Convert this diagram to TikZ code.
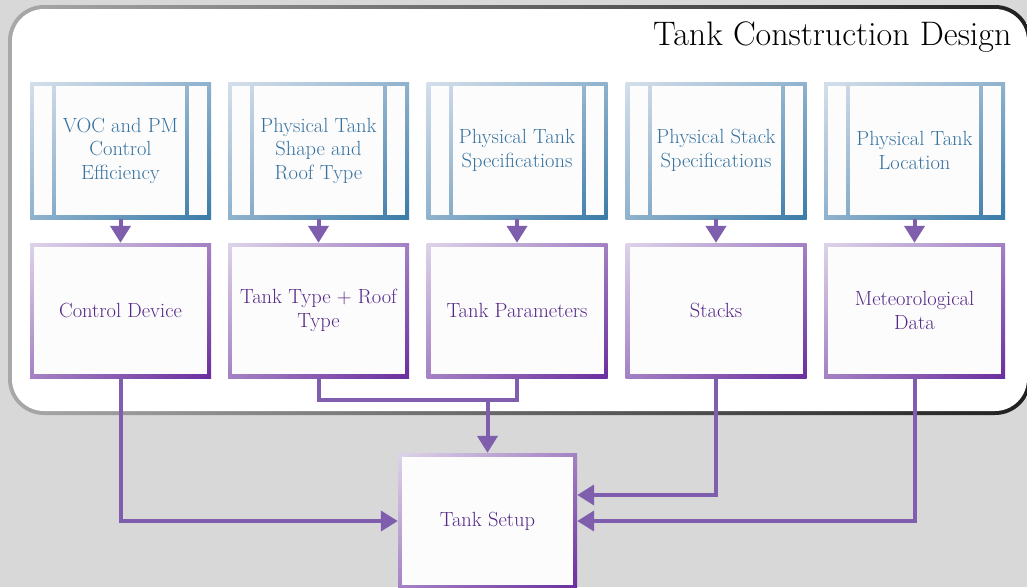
\documentclass[tikz,border=0pt]{standalone}
\usetikzlibrary{arrows.meta,positioning,calc,shadings}
\definecolor{backdrop}{HTML}{D8D8D8}
\definecolor{paper}{HTML}{FCFCFC}
\definecolor{rimlight}{HTML}{A8A8A8}
\definecolor{rimdark}{HTML}{202020}
\definecolor{bluelight}{HTML}{D5DFEB}
\definecolor{bluedark}{HTML}{3A7BA8}
\definecolor{lilaclight}{HTML}{DDD4E9}
\definecolor{lilacdark}{HTML}{6A2E9E}
\definecolor{inkblue}{HTML}{36729F}
\definecolor{inkpurple}{HTML}{552888}
\definecolor{flowpurple}{HTML}{7F5EAD}
\newcommand\boxsize{\fontsize{20.5}{23.5}\selectfont}
\newcommand\headsize{\fontsize{34}{38}\selectfont}

\tikzset{
  inbox/.style={minimum width=181pt, minimum height=137pt, inner sep=0pt,
    fill=paper, text=inkblue, font=\boxsize, align=center,
    path picture={
      \shade[upper left=bluelight, upper right=bluelight!55!bluedark,
             lower left=bluelight!55!bluedark, lower right=bluedark]
        (path picture bounding box.south west) rectangle (path picture bounding box.north east);
      \fill[paper] ([shift={(4pt,4pt)}]path picture bounding box.south west)
        rectangle ([shift={(22pt,-4pt)}]path picture bounding box.north west);
      \fill[paper] ([shift={(26pt,4pt)}]path picture bounding box.south west)
        rectangle ([shift={(-26pt,-4pt)}]path picture bounding box.north east);
      \fill[paper] ([shift={(-22pt,4pt)}]path picture bounding box.south east)
        rectangle ([shift={(-4pt,-4pt)}]path picture bounding box.north east);
    }},
  outbox/.style={minimum width=181pt, minimum height=135pt, inner sep=0pt,
    fill=paper, text=inkpurple, font=\boxsize, align=center,
    path picture={
      \shade[upper left=lilaclight, upper right=lilaclight!50!lilacdark,
             lower left=lilaclight!50!lilacdark, lower right=lilacdark]
        (path picture bounding box.south west) rectangle (path picture bounding box.north east);
      \fill[paper] ([shift={(4pt,4pt)}]path picture bounding box.south west)
        rectangle ([shift={(-4pt,-4pt)}]path picture bounding box.north east);
    }},
  flow/.style={draw=flowpurple, line width=4pt, -{Triangle[width=20pt,length=17pt]}},
  feed/.style={draw=flowpurple, line width=4pt}
}

\begin{document}
\begin{tikzpicture}[x=1pt,y=-1pt]
  \useasboundingbox (0,0) rectangle (1027,587);
  \fill[backdrop] (0,0) rectangle (1027,587);

  % frame of the design area
  \shade[left color=rimlight, right color=rimdark, rounded corners=36pt] (8,5) rectangle (1031,415);
  \fill[white, rounded corners=32pt] (12,9) rectangle (1027,411);
  \node[anchor=base east, font=\headsize] (title) at (1015,45) {Tank Construction Design};

  % inputs
  \node[inbox] (voc)   at (120.5,150.5) {VOC and PM\\Control\\Efficiency};
  \node[inbox] (shape) at (318.5,150.5) {Physical Tank\\Shape and\\Roof Type};
  \node[inbox] (spec)  at (517,150.5)   {Physical Tank\\Specifications};
  \node[inbox] (stack) at (716,150.5)   {Physical Stack\\Specifications};
  \node[inbox] (place) at (914.5,150.5) {Physical Tank\\Location};

  % model data
  \node[outbox] (device) at (120.5,310.5) {Control Device};
  \node[outbox] (type)   at (318.5,310.5) {Tank Type + Roof\\Type};
  \node[outbox] (param)  at (517,310.5)   {Tank Parameters};
  \node[outbox] (stacks) at (716,310.5)   {Stacks};
  \node[outbox] (meteo)  at (914.5,310.5) {Meteorological\\Data};

  \node[outbox, minimum width=179pt, minimum height=136pt] (setup) at (487.5,521) {Tank Setup};

  \draw[flow] (voc) -- (device);
  \draw[flow] (shape) -- (type);
  \draw[flow] (spec) -- (param);
  \draw[flow] (stack) -- (stacks);
  \draw[flow] (place) -- (meteo);

  \draw[feed] (type.south) -- ++(0,22) -| (param.south);
  \coordinate (join) at (487.5,400);
  \draw[flow] (join) -- (join |- setup.north);
  \draw[flow] (device.south) |- (setup.west);
  \draw[flow] (stacks.south) |- ([yshift=26pt]setup.east);
  \draw[flow] (meteo.south) |- (setup.east);
\end{tikzpicture}
\end{document}
